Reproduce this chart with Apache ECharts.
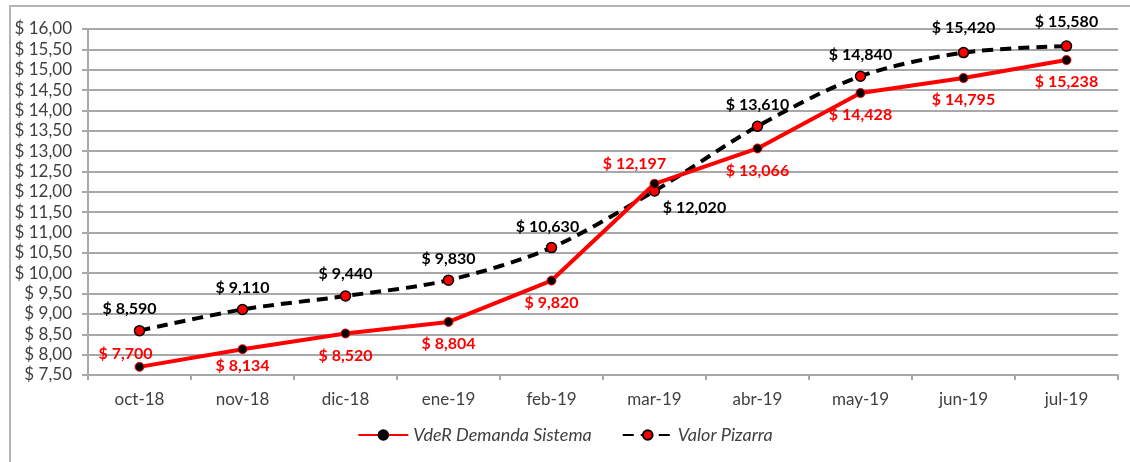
<!DOCTYPE html>
<html>
<head>
<meta charset="utf-8">
<script src="https://cdn.jsdelivr.net/npm/echarts@6/dist/echarts.min.js"></script>
<style>
  html, body { margin: 0; padding: 0; background: #fff; }
  #frame { position: absolute; left: 9px; top: 5px; width: 1200px; height: 500px; border: 2px solid #b4b4b4; box-sizing: border-box; }
  #lineChart { position: absolute; left: 0; top: 0; width: 1130px; height: 462px; }
</style>
</head>
<body>
<div id="frame"></div>
<div id="lineChart"></div>
<script>
  var months = ['oct-18', 'nov-18', 'dic-18', 'ene-19', 'feb-19', 'mar-19', 'abr-19', 'may-19', 'jun-19', 'jul-19']
  var demanda = [7.700, 8.134, 8.520, 8.804, 9.820, 12.197, 13.066, 14.428, 14.795, 15.238]
  var pizarra = [8.590, 9.110, 9.440, 9.830, 10.630, 12.020, 13.610, 14.840, 15.420, 15.580]

  var font = 'Lato, "Liberation Sans", sans-serif'

  function money(v, d) {
    return '$ ' + v.toFixed(d).replace('.', ',')
  }

  // per-point label tweaks, mostly to keep labels off the lines
  var demandaLabels = demanda.map(function (v, i) {
    var lab = { position: 'bottom', distance: 9 }
    if (i === 0) lab = { position: 'top', distance: 0, offset: [-14, 0] }
    if (i === 1) lab = { position: 'bottom', distance: 4 }
    if (i === 5) lab = { position: 'top', distance: 7, offset: [-20, 0] }
    return { value: v, label: lab }
  })
  var pizarraLabels = pizarra.map(function (v, i) {
    var lab = { position: 'top', distance: 8 }
    if (i === 0) lab = { position: 'top', distance: 8, offset: [-10, 0] }
    if (i === 4) lab = { position: 'top', distance: 7, offset: [-4, 0] }
    if (i === 5) lab = { position: 'bottom', distance: 3, offset: [40, 0] }
    if (i >= 8) lab = { position: 'top', distance: 11 }
    return { value: v, label: lab }
  })

  var chart = echarts.init(document.getElementById('lineChart'))
  chart.setOption({
    animation: false,
    textStyle: { fontFamily: font },
    grid: { left: 88, right: 12, top: 29, bottom: 87 },
    legend: {
      bottom: 13,
      left: 'center',
      itemWidth: 50,
      itemHeight: 12,
      itemGap: 30,
      textStyle: { fontFamily: font, fontSize: 18, fontStyle: 'italic', color: '#404040' },
      data: [
        { name: 'VdeR Demanda Sistema', itemStyle: { color: '#000', borderColor: '#000' } },
        { name: 'Valor Pizarra' }
      ]
    },
    xAxis: {
      type: 'category',
      data: months,
      boundaryGap: true,
      axisLine: { lineStyle: { color: '#a8a8a8', width: 2 } },
      axisTick: { show: true, length: 5, lineStyle: { color: '#a8a8a8', width: 2 } },
      axisLabel: { color: '#404040', fontSize: 17, margin: 16, fontFamily: font }
    },
    yAxis: {
      type: 'value',
      min: 7.5,
      max: 16,
      interval: 0.5,
      axisLine: { show: true, lineStyle: { color: '#a8a8a8', width: 2 } },
      axisTick: { show: true, length: 6, lineStyle: { color: '#a8a8a8', width: 2 } },
      splitLine: { lineStyle: { color: '#a8a8a8', width: 2 } },
      axisLabel: {
        color: '#404040', fontSize: 17, margin: 16, fontFamily: font,
        formatter: function (v) { return money(v, 2) }
      }
    },
    series: [
      {
        name: 'VdeR Demanda Sistema',
        type: 'line',
        data: demandaLabels,
        symbol: 'circle',
        symbolSize: 9,
        itemStyle: { color: '#000', borderColor: '#ff0000', borderWidth: 1 },
        lineStyle: { color: '#ff0000', width: 4 },
        label: {
          show: true,
          color: '#ff0000',
          fontSize: 16,
          fontWeight: 'bold',
          fontFamily: font,
          formatter: function (p) { return money(p.value, 3) }
        },
        z: 3
      },
      {
        name: 'Valor Pizarra',
        type: 'line',
        data: pizarraLabels,
        smooth: 0.3,
        symbol: 'circle',
        symbolSize: 10,
        itemStyle: { color: '#ff0000', borderColor: '#000', borderWidth: 1.5 },
        lineStyle: { color: '#000', width: 4, type: [11, 7] },
        label: {
          show: true,
          color: '#000',
          fontSize: 16,
          fontWeight: 'bold',
          fontFamily: font,
          formatter: function (p) { return money(p.value, 3) }
        },
        z: 2
      }
    ]
  })
</script>
</body>
</html>
